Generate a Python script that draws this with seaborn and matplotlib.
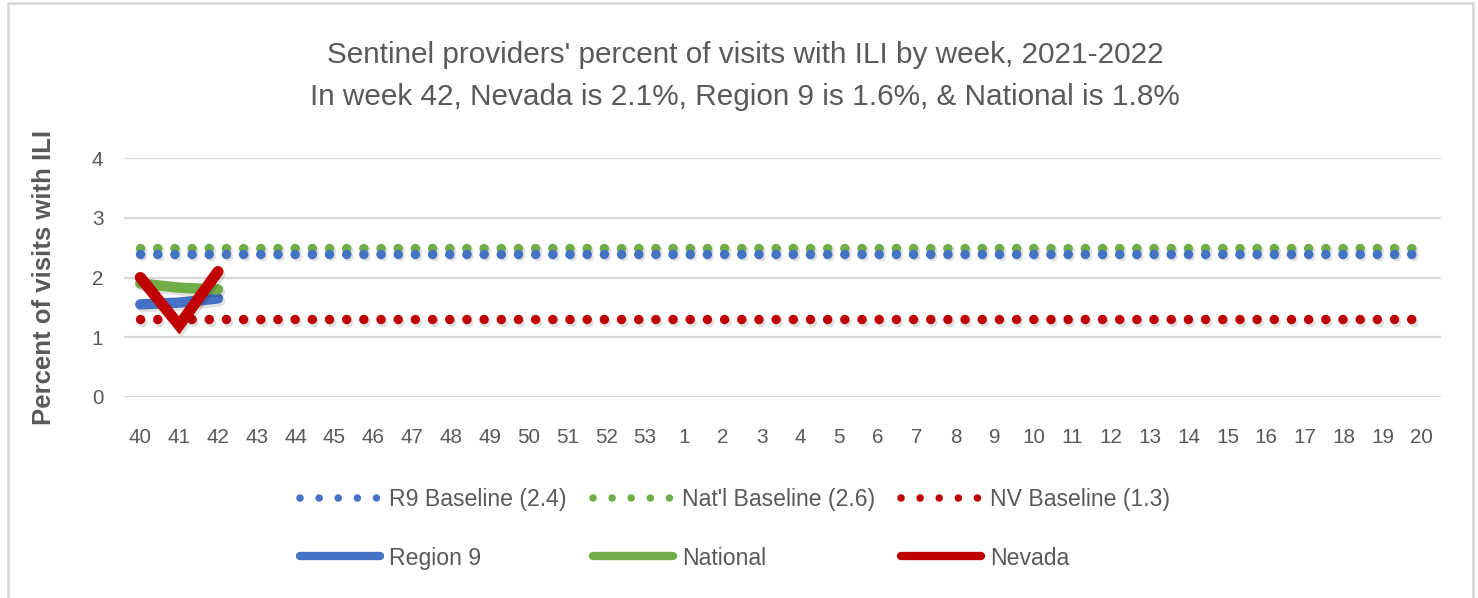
import numpy as np
import pandas as pd
import matplotlib
matplotlib.use("Agg")
import matplotlib.pyplot as plt
import matplotlib.patheffects as pe
import seaborn as sns
from matplotlib.patches import Rectangle
from matplotlib.lines import Line2D

# ---------------- data ----------------
weeks = ["40", "41", "42", "43", "44", "45", "46", "47", "48", "49", "50", "51", "52", "53",
         "1", "2", "3", "4", "5", "6", "7", "8", "9", "10", "11", "12", "13", "14", "15",
         "16", "17", "18", "19", "20"]
r9_baseline_value = 2.4
natl_baseline_value = 2.5
nv_baseline_value = 1.3
observed_weeks = ["40", "41", "42"]
region9 = [1.55, 1.58, 1.65]
national = [1.9, 1.83, 1.8]
nevada = [2.0, 1.2, 2.1]
y_ticks = [0, 1, 2, 3, 4]

title_line1 = "Sentinel providers' percent of visits with ILI by week, 2021-2022"
title_line2 = "In week 42, Nevada is 2.1%, Region 9 is 1.6%, & National is 1.8%"
y_label = "Percent of visits with ILI"
lbl_r9b = "R9 Baseline (2.4)"
lbl_natb = "Nat'l Baseline (2.6)"
lbl_nvb = "NV Baseline (1.3)"
lbl_r9 = "Region 9"
lbl_nat = "National"
lbl_nv = "Nevada"

# ---------------- style ----------------
BLUE = "#4472C4"
GREEN = "#70AD47"
RED = "#C00000"
TXT = "#595959"
GRID = "#D9D9D9"

sns.set_theme(style="white")
plt.rcParams["font.family"] = ["Liberation Sans Narrow", "Liberation Sans", "DejaVu Sans"]

W, H = 1478, 598
fig = plt.figure(figsize=(W / 100, H / 100), dpi=100)
fig.patch.set_facecolor("white")
renderer = fig.canvas.get_renderer()


def fit_size(text, target_px, weight="normal"):
    t = fig.text(0, 0, text, fontsize=10, weight=weight)
    w = t.get_window_extent(renderer).width
    t.remove()
    return 10 * target_px / w


fs_title = fit_size(title_line1, 840)
fs_legend = fit_size(lbl_r9b, 178)
fs_tick = fit_size("40", 23)
fs_ylabel = fit_size(y_label, 295, weight="bold")

# axes placement (pixels)
x0, x1 = 124, 1441
y_top, y_bot = 158, 397
ax = fig.add_axes([x0 / W, (H - y_bot) / H, (x1 - x0) / W, (y_bot - y_top) / H])
ax.set_facecolor("white")

pos = np.arange(len(weeks))
pos_obs = np.array([weeks.index(w) for w in observed_weeks])

base_df = pd.DataFrame({
    "x": np.concatenate([pos, pos, pos]),
    "y": np.concatenate([np.full(len(weeks), natl_baseline_value),
                         np.full(len(weeks), r9_baseline_value),
                         np.full(len(weeks), nv_baseline_value)]),
    "series": [lbl_natb] * len(weeks) + [lbl_r9b] * len(weeks) + [lbl_nvb] * len(weeks),
})

shadow = [pe.SimpleLineShadow(offset=(1.5, -2), alpha=0.12, shadow_color="black"),
          pe.Normal()]

dot_lw = 6.8
dot_style = (0, (0.01, 12.3 / dot_lw))
for name, color in [(lbl_natb, GREEN), (lbl_r9b, BLUE), (lbl_nvb, RED)]:
    d = base_df[base_df["series"] == name]
    sns.lineplot(data=d, x="x", y="y", ax=ax, color=color, linewidth=dot_lw,
                 legend=False, sort=False)
    line = ax.lines[-1]
    line.set_linestyle(dot_style)
    line.set_dash_capstyle("round")
    line.set_zorder(3)
    line.set_path_effects(shadow)

obs_df = pd.DataFrame({
    "x": np.concatenate([pos_obs, pos_obs, pos_obs]),
    "y": np.concatenate([region9, national, nevada]),
    "series": [lbl_r9] * 3 + [lbl_nat] * 3 + [lbl_nv] * 3,
})
for name, color, lw in [(lbl_r9, BLUE, 7.5), (lbl_nat, GREEN, 7.5), (lbl_nv, RED, 8.0)]:
    d = obs_df[obs_df["series"] == name]
    sns.lineplot(data=d, x="x", y="y", ax=ax, color=color, linewidth=lw,
                 legend=False, sort=False)
    line = ax.lines[-1]
    line.set_solid_capstyle("round")
    line.set_solid_joinstyle("miter")
    line.set_zorder(4)
    line.set_path_effects(shadow)

ax.set_xlim(-0.42, len(weeks) - 0.5)
ax.set_ylim(0, 4)
ax.set_yticks(y_ticks)
ax.set_xticks(pos)
ax.set_xticklabels(weeks)
ax.grid(axis="y", color=GRID, linewidth=1.6)
ax.grid(axis="x", visible=False)
ax.set_axisbelow(True)
for s in ax.spines.values():
    s.set_visible(False)
ax.tick_params(axis="both", length=0, colors=TXT, labelsize=fs_tick)
ax.tick_params(axis="x", pad=22)
ax.tick_params(axis="y", pad=15)
ax.set_xlabel("")
ax.set_ylabel(y_label, fontsize=fs_ylabel, color=TXT, weight="bold")
ax.yaxis.set_label_coords((56 - x0) / (x1 - x0), 0.5)

# title
fig.text(745 / W, (H - 55) / H, title_line1, ha="center", va="center",
         fontsize=fs_title, color=TXT)
fig.text(745 / W, (H - 97) / H, title_line2, ha="center", va="center",
         fontsize=fs_title, color=TXT)

# legend
leg_dot_lw = 5.4
def dot_handle(color):
    # dot spacing ~19 px = 13.7 pt
    return Line2D([], [], color=color, linewidth=leg_dot_lw,
                  linestyle=(0, (0.01, 13.7 / leg_dot_lw)), dash_capstyle="round")


def solid_handle(color):
    return Line2D([], [], color=color, linewidth=6.0, solid_capstyle="round")

handles = [dot_handle(BLUE), solid_handle(BLUE), dot_handle(GREEN), solid_handle(GREEN),
           dot_handle(RED), solid_handle(RED)]
labels = [lbl_r9b, lbl_r9, lbl_natb, lbl_nat, lbl_nvb, lbl_nv]
em = fs_legend * 100 / 72
leg = fig.legend(handles, labels, ncol=3, loc="center",
                 bbox_to_anchor=(735 / W, (H - 529) / H), frameon=False,
                 fontsize=fs_legend, handlelength=80 / em, handletextpad=9 / em,
                 columnspacing=26 / em, labelspacing=(58 - em) / em, borderpad=0)
for t in leg.get_texts():
    t.set_color(TXT)

# outer chart border
fig.patches.append(Rectangle((8 / W, -0.05), (1473 - 8) / W, (H - 3) / H + 0.05,
                             transform=fig.transFigure, fill=False,
                             edgecolor=GRID, linewidth=2.0))

fig.savefig("out.png", dpi=100, facecolor="white")
